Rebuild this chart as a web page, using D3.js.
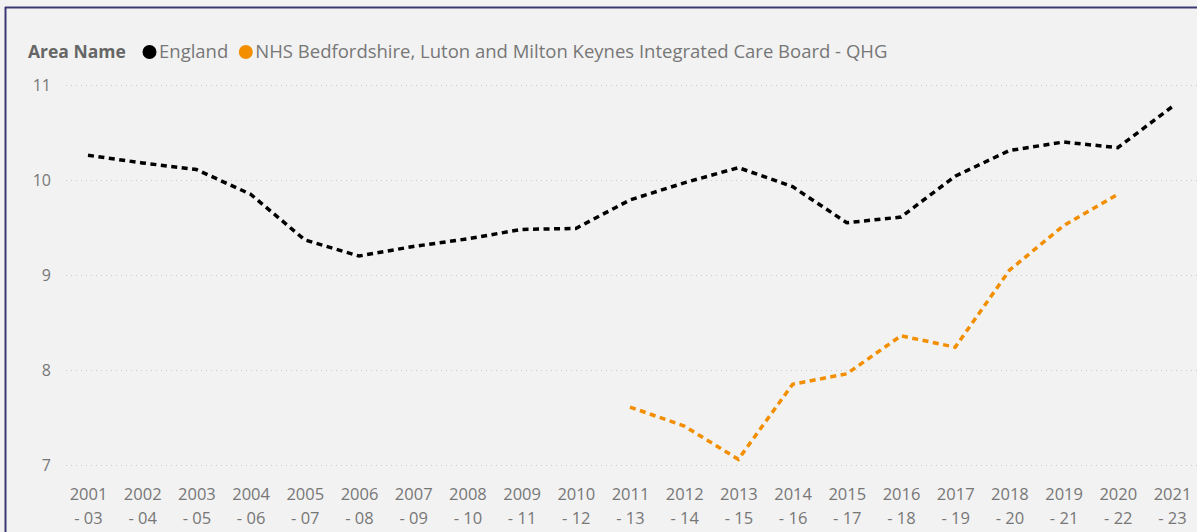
<!DOCTYPE html>
<html><head><meta charset="utf-8">
<script src="https://cdn.jsdelivr.net/npm/d3@7"></script>
<style>
html,body{margin:0;padding:0;background:#f2f2f2;overflow:hidden;}
svg{display:block;}
</style></head>
<body>
<svg id="c" width="1197" height="532"></svg>
<script>
const categories = ["2001 - 03","2002 - 04","2003 - 05","2004 - 06","2005 - 07","2006 - 08","2007 - 09","2008 - 10","2009 - 11","2010 - 12","2011 - 13","2012 - 14","2013 - 15","2014 - 16","2015 - 17","2016 - 18","2017 - 19","2018 - 20","2019 - 21","2020 - 22","2021 - 23"];
const england = [10.26,10.18,10.11,9.85,9.37,9.20,9.30,9.38,9.48,9.49,9.79,9.97,10.13,9.93,9.55,9.61,10.04,10.31,10.40,10.34,10.77];
const nhsBLMK = [null,null,null,null,null,null,null,null,null,null,7.61,7.41,7.06,7.85,7.96,8.36,8.24,9.05,9.52,9.85,null];
const yTicks = [7,8,9,10,11];
const seriesNames = ["England","NHS Bedfordshire, Luton and Milton Keynes Integrated Care Board - QHG"];
const seriesColors = ["#000000","#F28E00"];
const legendTitle = "Area Name";
const xTitle = "Time period";

const svg = d3.select("#c");
const font = "'Open Sans','Noto Sans',sans-serif";

// frame
svg.append("rect").attr("x",0).attr("y",0).attr("width",1197).attr("height",532).attr("fill","#f2f2f2");
svg.append("line").attr("x1",5).attr("x2",1197).attr("y1",7.5).attr("y2",7.5).attr("stroke","#3a3872").attr("stroke-width",2);
svg.append("line").attr("x1",5.5).attr("x2",5.5).attr("y1",7).attr("y2",532).attr("stroke","#3a3872").attr("stroke-width",2);

const x = d3.scalePoint().domain(categories).range([88,1172]);
const y = d3.scaleLinear().domain([7,11]).range([465,85]);

// gridlines
svg.append("g").selectAll("line").data(yTicks).join("line")
  .attr("x1",66).attr("x2",1197)
  .attr("y1",d=>y(d)+0.5).attr("y2",d=>y(d)+0.5)
  .attr("stroke","#c8c8c8").attr("stroke-width",1).attr("stroke-dasharray","1,4");

// y axis labels
const yAxis = d3.axisLeft(y).tickValues(yTicks).tickSize(0).tickPadding(0).tickFormat(d3.format("d"));
const gy = svg.append("g").attr("transform","translate(51,0)").call(yAxis);
gy.select(".domain").remove();
gy.selectAll("text").attr("font-family",font).attr("font-size",16).attr("fill","#777");

// x axis labels (two lines)
const xAxis = d3.axisBottom(x).tickSize(0).tickPadding(0).tickFormat("");
const gx = svg.append("g").attr("transform","translate(0,480)").call(xAxis);
gx.select(".domain").remove();
gx.selectAll(".tick").each(function(d){
  const parts = d.split(" - ");
  const t = d3.select(this).append("text").attr("font-family",font).attr("font-size",16.5).attr("fill","#777").attr("text-anchor","middle");
  t.append("tspan").attr("x",0).attr("y",20).text(parts[0]);
  t.append("tspan").attr("x",0).attr("y",44).text("- " + parts[1]);
});

svg.append("text").attr("x",630).attr("y",546).attr("text-anchor","middle")
  .attr("font-family",font).attr("font-size",18).attr("fill","#555").text(xTitle);

// lines
const line = d3.line().defined(d=>d.v!=null).x(d=>x(d.c)).y(d=>y(d.v));
[england,nhsBLMK].forEach((vals,i)=>{
  const data = categories.map((c,j)=>({c, v: vals[j]}));
  svg.append("path").datum(data).attr("d",line)
    .attr("fill","none").attr("stroke",seriesColors[i]).attr("stroke-width",3.5)
    .attr("stroke-dasharray","6,4.5");
});

// legend
const lg = svg.append("g");
lg.append("text").attr("x",28).attr("y",58).attr("font-family",font).attr("font-size",17.5).attr("font-weight","bold").attr("fill","#666").text(legendTitle);
let lx = 142;
seriesNames.forEach((n,i)=>{
  lg.append("circle").attr("cx",lx+7.5).attr("cy",52).attr("r",7).attr("fill",seriesColors[i]);
  const t = lg.append("text").attr("x",lx+17).attr("y",58).attr("font-family",font).attr("font-size",18.5).attr("fill","#777").text(n);
  lx += 17 + t.node().getComputedTextLength() + 10;
});
</script>
</body></html>
